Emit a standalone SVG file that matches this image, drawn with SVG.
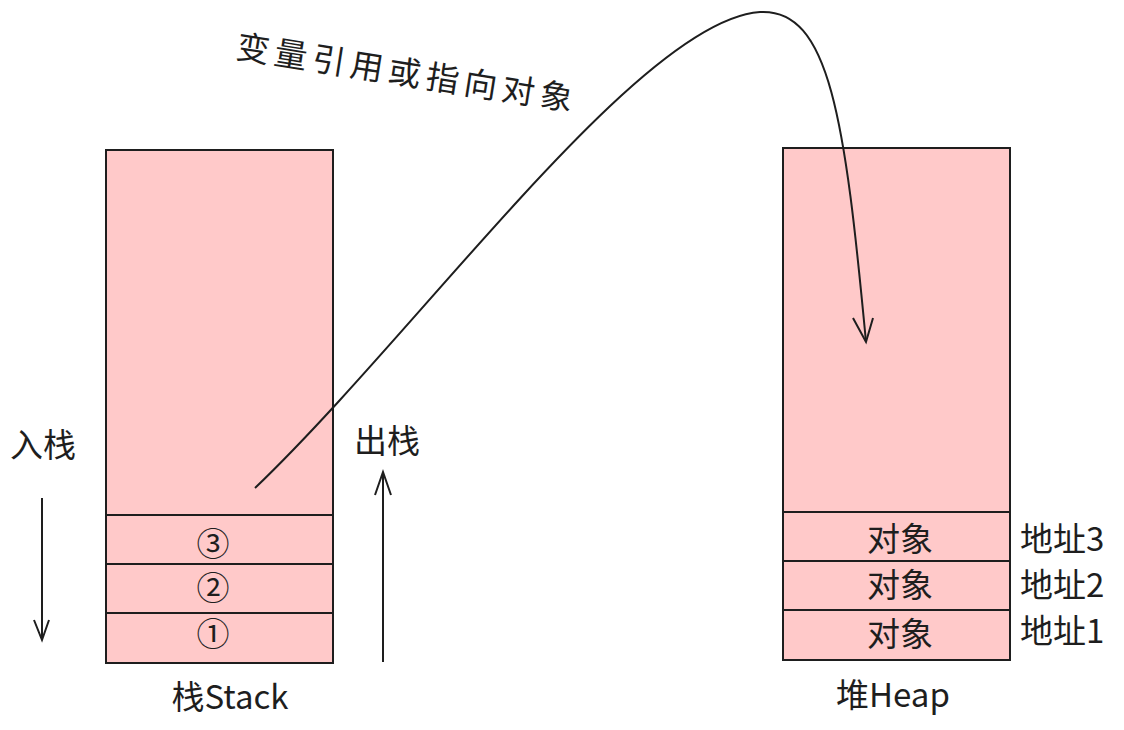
<svg xmlns="http://www.w3.org/2000/svg" width="1124" height="730" viewBox="0 0 1124 730">
<style>
.box{fill:#ffc9c9;stroke:#1e1e1e;stroke-width:2}
.ln{stroke:#1e1e1e;stroke-width:2;fill:none}
text{font-family:"Noto Sans CJK SC","Noto Sans",sans-serif;fill:#1e1e1e;font-size:33px}
</style>
<rect width="1124" height="730" fill="#fff"/>
<g id="stack">
<rect class="box" x="106" y="150" width="227" height="513"/>
<line class="ln" x1="106" y1="515" x2="333" y2="515"/>
<line class="ln" x1="106" y1="564" x2="333" y2="564"/>
<line class="ln" x1="106" y1="613" x2="333" y2="613"/>
<text x="213" y="556" text-anchor="middle">③</text>
<text x="213" y="600" text-anchor="middle">②</text>
<text x="213" y="646" text-anchor="middle">①</text>
<text x="230" y="709" text-anchor="middle">栈Stack</text>
</g>
<g id="heap">
<rect class="box" x="783" y="148" width="227" height="512"/>
<line class="ln" x1="783" y1="512" x2="1010" y2="512"/>
<line class="ln" x1="783" y1="561" x2="1010" y2="561"/>
<line class="ln" x1="783" y1="610" x2="1010" y2="610"/>
<text x="900" y="551" text-anchor="middle">对象</text>
<text x="900" y="597" text-anchor="middle">对象</text>
<text x="900" y="646" text-anchor="middle">对象</text>
<text x="1020" y="551">地址3</text>
<text x="1020" y="597">地址2</text>
<text x="1020" y="643">地址1</text>
<text x="893" y="707" text-anchor="middle">堆Heap</text>
</g>
<g id="labels">
<text x="10" y="457">入栈</text>
<text x="354" y="453">出栈</text>
<text x="237" y="58" font-size="38" textLength="340" lengthAdjust="spacing" transform="rotate(9 237 45)">变量引用或指向对象</text>
</g>
<g id="connectors">
<path class="ln" d="M42 498 L42 640 M34 620 L42 640 L49 620"/>
<path class="ln" d="M383 662 L383 472 M375 495 L383 472 L391 495"/>
<path class="ln" d="M255 488 C420 330 640 20 760 12 C830 8 845 120 866 342"/>
<path class="ln" d="M853 318 L866 342 L873 318"/>
</g>
</svg>
